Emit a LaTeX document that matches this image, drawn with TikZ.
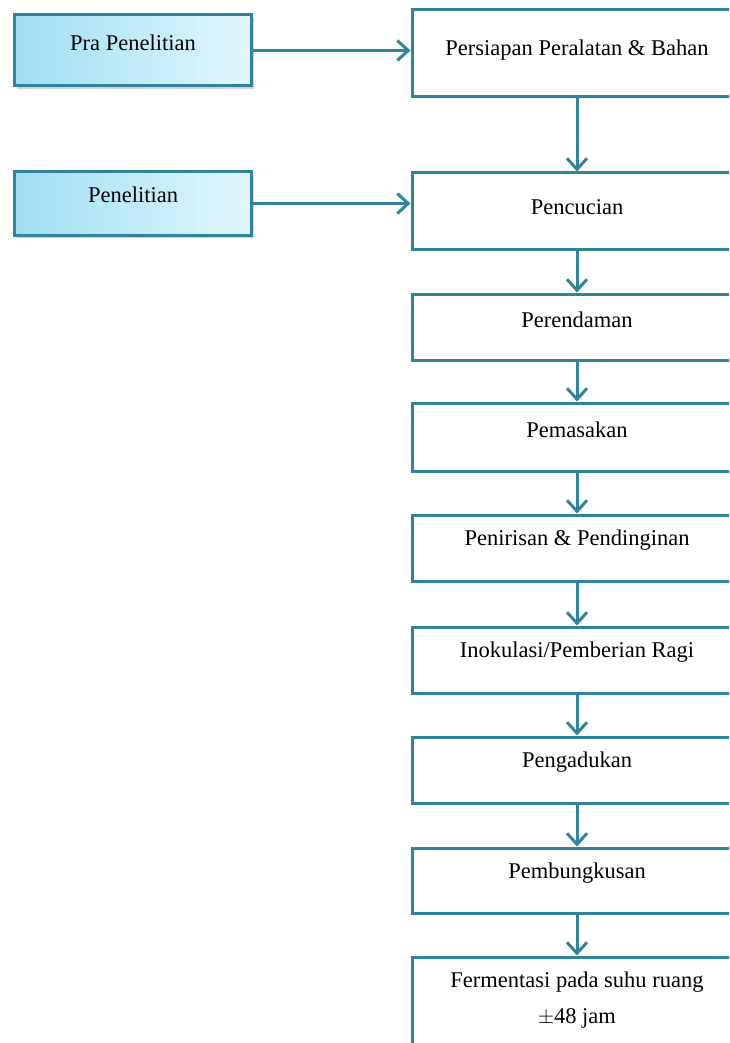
\documentclass[tikz,border=0pt]{standalone}
\usepackage{fontspec}
\setmainfont{Liberation Serif}
\usetikzlibrary{arrows.meta,shadows,calc}
\definecolor{teal1}{HTML}{31849B}
\definecolor{lbl}{HTML}{9EDFF3}
\definecolor{lbr}{HTML}{E2F7FC}
\tikzset{
  every node/.style={font=\fontsize{22.5}{36}\selectfont, text=black},
  leftbox/.style={draw=teal1, line width=3pt, left color=lbl, right color=lbr,
     minimum width=237pt, inner sep=0pt,
     drop shadow={opacity=0.35, shadow xshift=2pt, shadow yshift=-3pt}},
  rightbox/.style={draw=teal1, line width=3pt, fill=white, minimum width=330pt, inner sep=0pt,
     drop shadow={opacity=0.15, shadow xshift=1.5pt, shadow yshift=-2pt}},
  txt/.style={inner sep=0pt, align=center},
  flow/.style={draw=teal1, line width=3pt, -{Straight Barb[length=11pt,width=20pt,line width=3pt]}},
}
\begin{document}
\begin{tikzpicture}[x=1pt,y=-1pt]
\clip (0,0) rectangle (729,1043);
\fill[white] (0,0) rectangle (729,1043);
% left boxes
\node[leftbox, minimum height=71pt] (pra) at (133,50.5) {};
\node[txt] (tpra) at (133,43) {Pra Penelitian};
\node[leftbox, minimum height=63pt] (pen) at (133,203.5) {};
\node[txt] (tpen) at (133,195) {Penelitian};
% right boxes
\node[rightbox, minimum height=87pt] (b1) at (577,53.5) {};
\node[txt] (t1) at (577,50) {Persiapan Peralatan \& Bahan};
\node[rightbox, minimum height=76pt] (b2) at (577,211) {};
\node[txt] (t2) at (577,207) {Pencucian};
\node[rightbox, minimum height=66pt] (b3) at (577,327) {};
\node[txt] (t3) at (577,320) {Perendaman};
\node[rightbox, minimum height=68pt] (b4) at (577,437) {};
\node[txt] (t4) at (577,430) {Pemasakan};
\node[rightbox, minimum height=66pt] (b5) at (577,548) {};
\node[txt] (t5) at (577,540) {Penirisan \& Pendinginan};
\node[rightbox, minimum height=66pt] (b6) at (577,660) {};
\node[txt] (t6) at (577,652) {Inokulasi/Pemberian Ragi};
\node[rightbox, minimum height=66pt] (b7) at (577,770) {};
\node[txt] (t7) at (577,762) {Pengadukan};
\node[rightbox, minimum height=65pt] (b8) at (577,880.5) {};
\node[txt] (t8) at (577,873) {Pembungkusan};
\node[rightbox, minimum height=110pt] (b9) at (577,1012) {};
\node[txt] (t9) at (577,1000) {Fermentasi pada suhu ruang\\$\pm$48 jam};
% arrows
\draw[flow] (pra.east) -- (pra.east -| b1.west);
\draw[flow] (pen.east) -- (pen.east -| b2.west);
\draw[flow] (b1) -- (b2);
\draw[flow] (b2) -- (b3);
\draw[flow] (b3) -- (b4);
\draw[flow] (b4) -- (b5);
\draw[flow] (b5) -- (b6);
\draw[flow] (b6) -- (b7);
\draw[flow] (b7) -- (b8);
\draw[flow] (b8) -- (b9);
\end{tikzpicture}
\end{document}
